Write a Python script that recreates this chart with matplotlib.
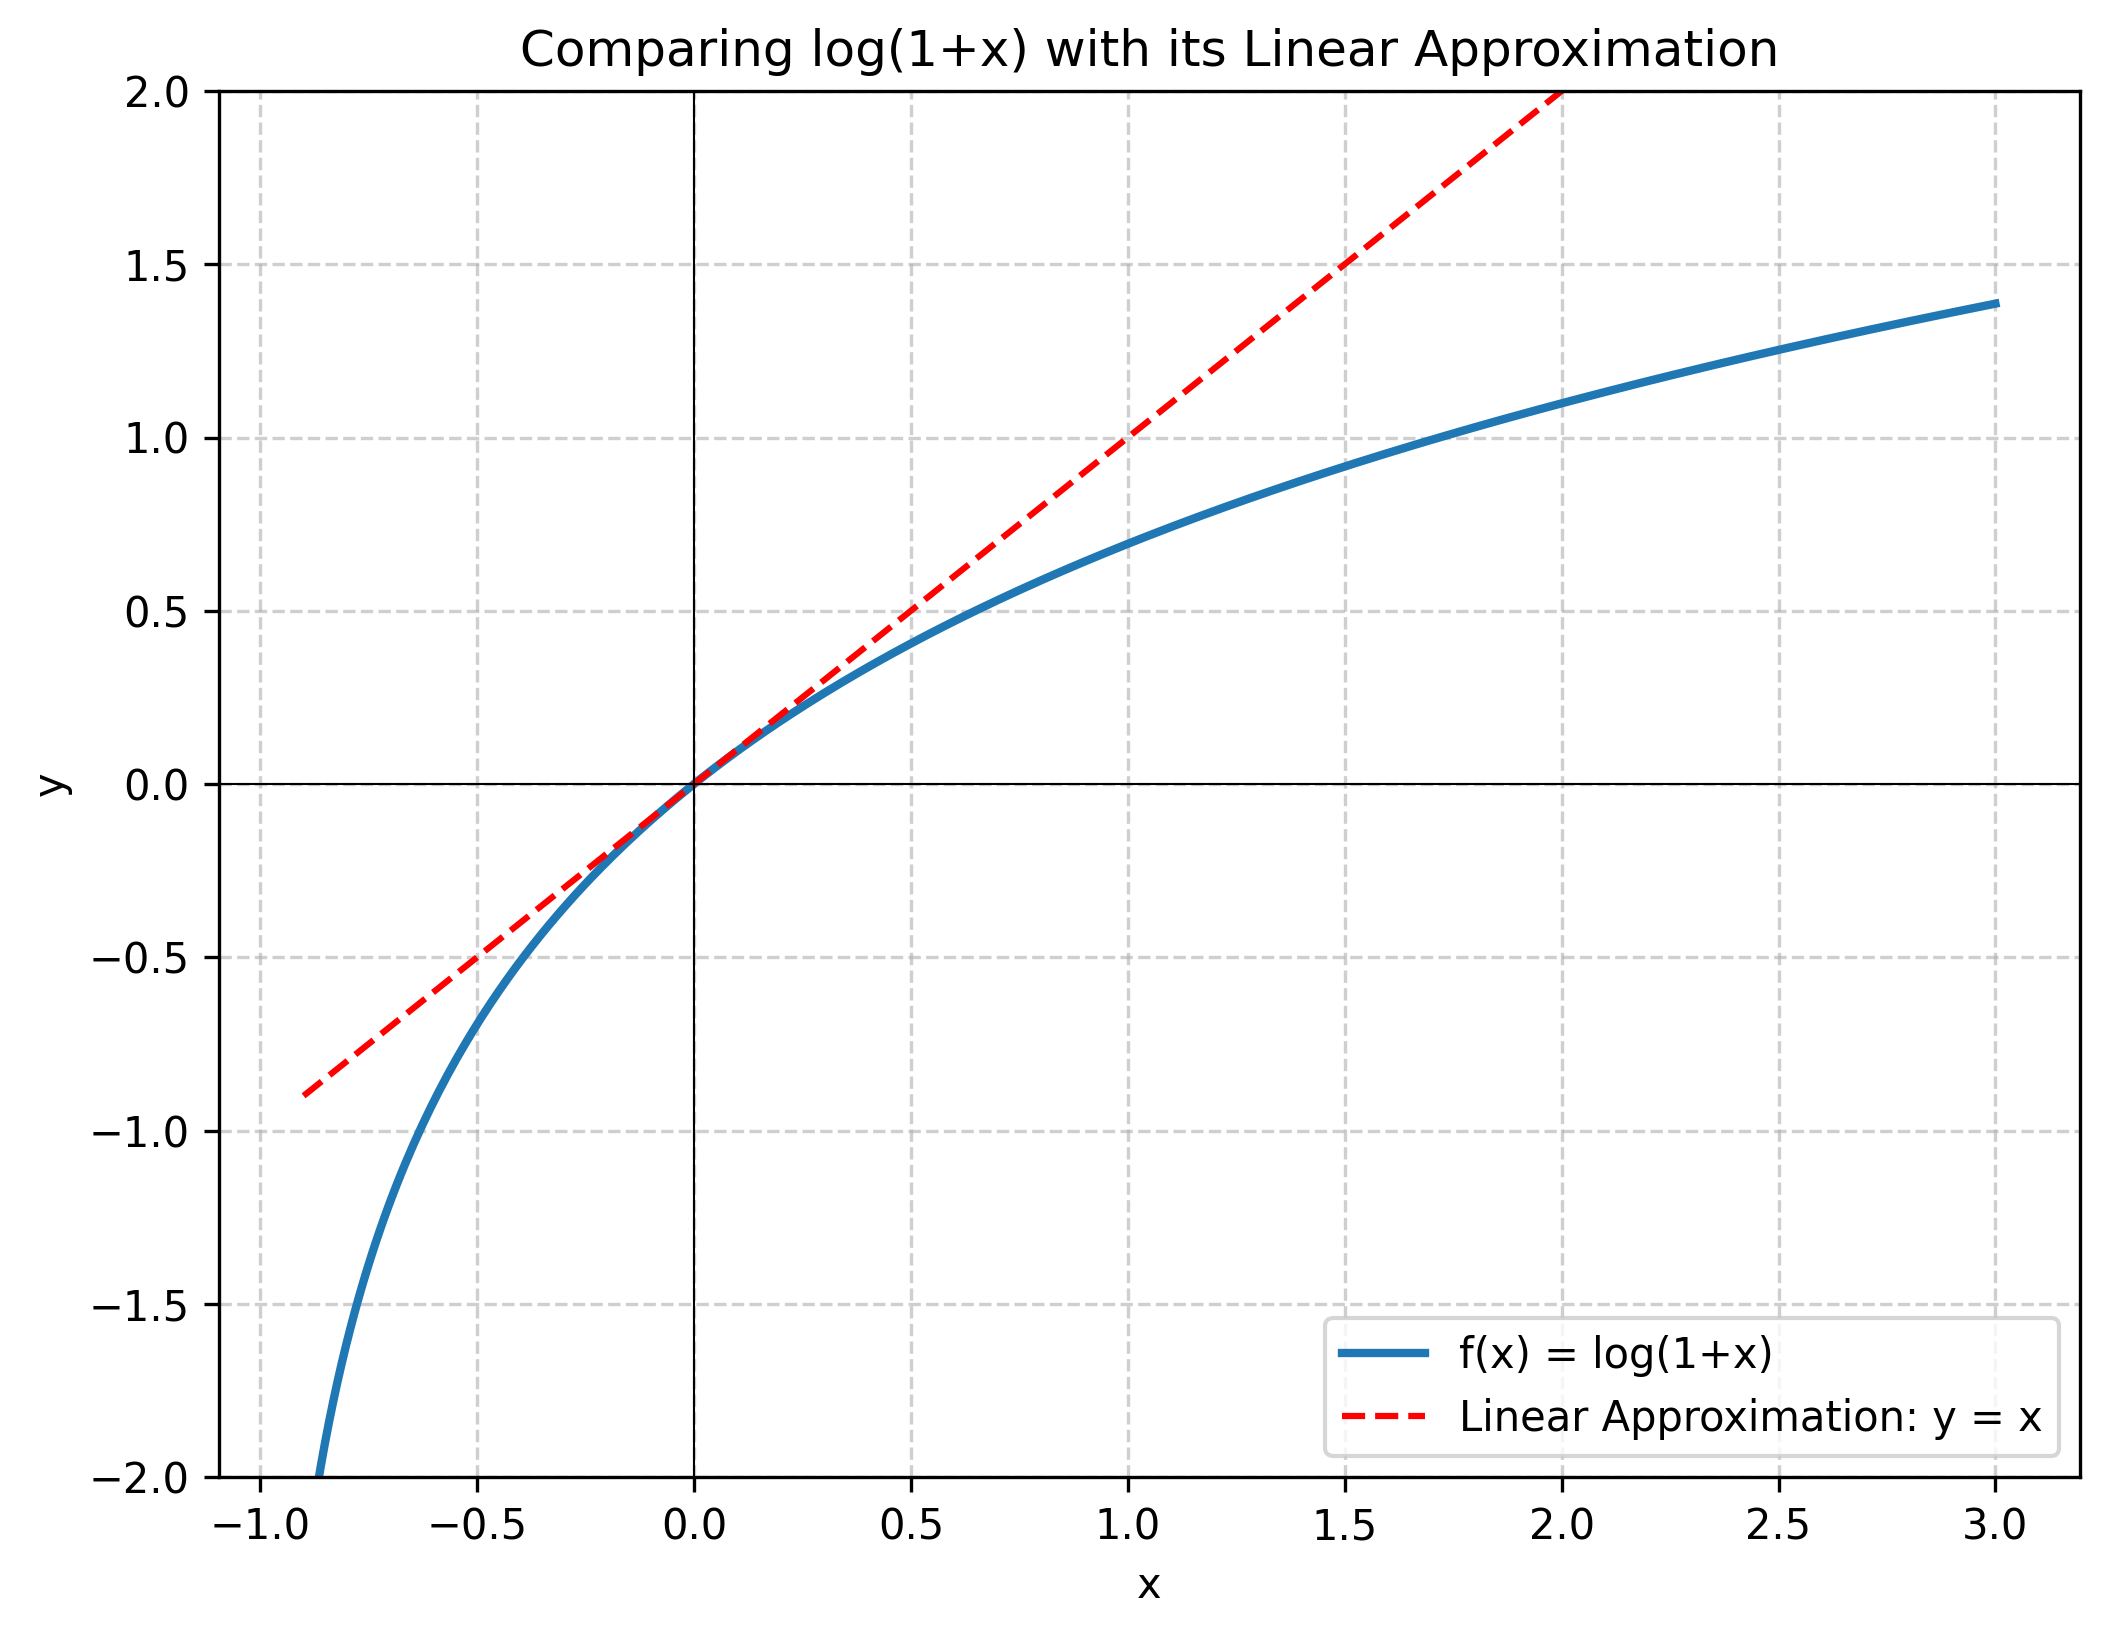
import numpy as np
import matplotlib
matplotlib.use("Agg")
import matplotlib.pyplot as plt

# Data
x_start, x_end = -0.9, 3.0
n_points = 400
x_ticks = [-1.0, -0.5, 0.0, 0.5, 1.0, 1.5, 2.0, 2.5, 3.0]
y_ticks = [-2.0, -1.5, -1.0, -0.5, 0.0, 0.5, 1.0, 1.5, 2.0]
title = "Comparing log(1+x) with its Linear Approximation"
label_f = "f(x) = log(1+x)"
label_lin = "Linear Approximation: y = x"

x = np.linspace(x_start, x_end, n_points)
y_log = np.log1p(x)
y_lin = x

fig = plt.figure(figsize=(2108/300, 1638/300), dpi=300)
ax = fig.add_axes([219/2108, 1-1477/1638, (2080-219)/2108, (1477-91)/1638])
ax.plot(x, y_log, color="#1f77b4", linewidth=2, label=label_f)
ax.plot(x, y_lin, "r--", linewidth=1.5, label=label_lin)
ax.axhline(0, color="black", linewidth=0.5)
ax.axvline(0, color="black", linewidth=0.5)
ax.set_ylim(-2, 2)
ax.set_xticks(x_ticks)
ax.set_yticks(y_ticks)
ax.set_xlabel("x")
ax.set_ylabel("y")
ax.set_title(title)
ax.grid(True, linestyle="--", alpha=0.6)
ax.legend(loc="lower right")
fig.savefig("out.png", dpi=300)
